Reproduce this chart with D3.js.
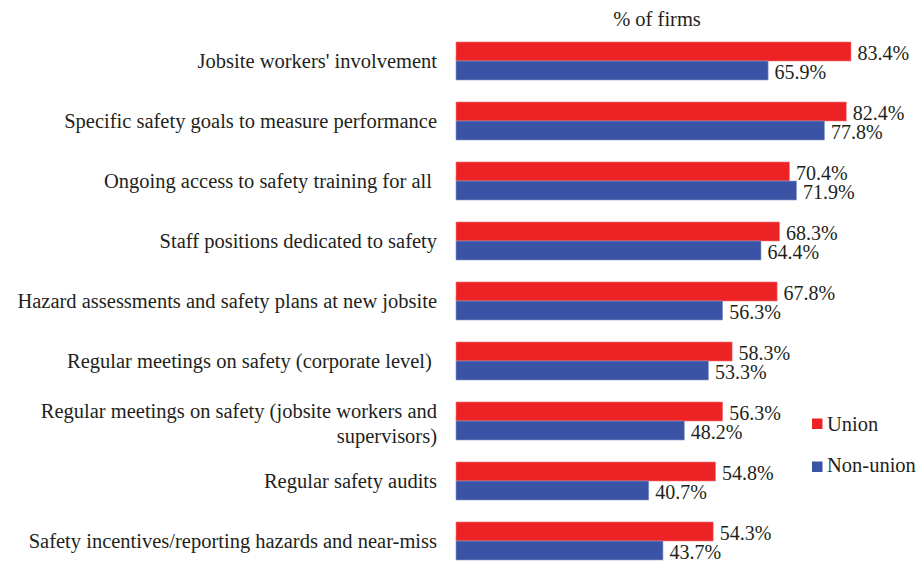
<!DOCTYPE html>
<html><head><meta charset="utf-8">
<script src="https://cdn.jsdelivr.net/npm/d3@7/dist/d3.min.js"></script>
</head><body style="margin:0"><svg id="c" width="920" height="562"></svg>
<script>
const categories = [
  ["Jobsite workers' involvement"],
  ["Specific safety goals to measure performance"],
  ["Ongoing access to safety training for all\u00A0"],
  ["Staff positions dedicated to safety"],
  ["Hazard assessments and safety plans at new jobsite"],
  ["Regular meetings on safety (corporate level)\u00A0"],
  ["Regular meetings on safety (jobsite workers and", "supervisors)"],
  ["Regular safety audits"],
  ["Safety incentives/reporting hazards and near-miss"]
];
const union = [83.4, 82.4, 70.4, 68.3, 67.8, 58.3, 56.3, 54.8, 54.3];
const nonUnion = [65.9, 77.8, 71.9, 64.4, 56.3, 53.3, 48.2, 40.7, 43.7];
const seriesNames = ["Union", "Non-union"];
const colors = ["#ED2224", "#3A53A4"];
const axisTitle = "% of firms";

const svg = d3.select("#c");
const x = d3.scaleLinear().domain([0, 100]).range([456, 456 + 473.6]);
const yb = d3.scaleBand().domain([0, 1]).range([0, 38]);
const gy = d3.scaleLinear().domain([0, 1]).range([42, 102]);
const data = [union, nonUnion];

function txt(xp, yp, s, anchor, fs) {
  return svg.append("text").attr("x", xp).attr("y", yp).attr("text-anchor", anchor || "start")
    .attr("style", 'font-family: "Times New Roman", Tinos, FreeSerif, serif')
    .attr("font-size", fs || 20.5).attr("fill", "#231f20")
    .text(s);
}

txt(657, 26, axisTitle, "middle");

categories.forEach((lines, i) => {
  const cy = gy(i) + 19;
  const n = lines.length;
  lines.forEach((l, k) => {
    txt(437, cy + 7 + (k - (n - 1) / 2) * 25 + (n > 1 ? 2 : 0), l, "end");
  });
  data.forEach((s, j) => {
    const top = gy(i) + yb(j);
    svg.append("rect").attr("x", x(0)).attr("y", top).attr("width", x(s[i]) - x(0)).attr("height", yb.bandwidth())
      .attr("fill", colors[j]).attr("stroke", j === 0 ? "#f37a7b" : "#8a99c8").attr("stroke-width", 0.6);
    txt(x(s[i]) + 6.5, top + yb.bandwidth() - 1, s[i].toFixed(1) + "%", "start", 20);
  });
});

const leg = [418.5, 461.5];
seriesNames.forEach((n, j) => {
  svg.append("rect").attr("x", 812).attr("y", leg[j]).attr("width", 10.5).attr("height", 10.5).attr("fill", colors[j]);
  txt(827, leg[j] + 12.5 + (j === 1 ? -2.3 : 0), n);
});
</script></body></html>
